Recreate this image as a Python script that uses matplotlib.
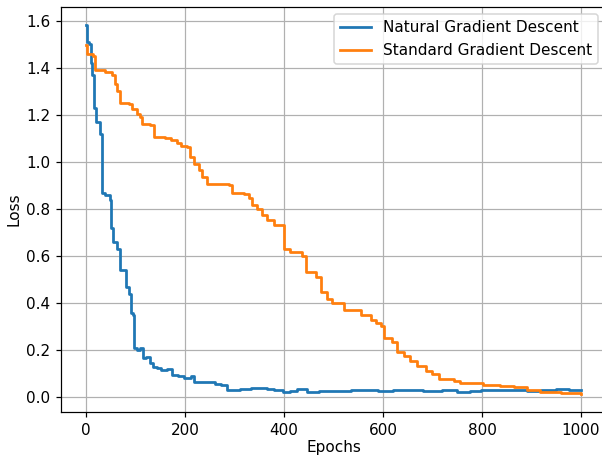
import matplotlib
matplotlib.use("Agg")
import matplotlib.pyplot as plt

# Natural gradient descent: (epoch, loss) change points
ngd_epochs = [0, 2, 7, 10, 13, 17, 20, 28, 32, 39, 48, 51, 55, 63, 68, 76, 80, 86, 90, 95,
              97, 103, 110, 116, 122, 129, 136, 144, 151, 164, 174, 186, 197, 212, 218,
              245, 261, 272, 285, 312, 333, 353, 365, 380, 397, 412, 427, 447, 470, 500,
              535, 561, 590, 620, 642, 680, 720, 750, 775, 797, 830, 860, 890, 920, 950,
              975, 1000]
ngd_loss = [1.58, 1.51, 1.50, 1.42, 1.37, 1.23, 1.17, 1.12, 0.87, 0.86, 0.84, 0.72, 0.66,
            0.63, 0.54, 0.54, 0.47, 0.44, 0.36, 0.35, 0.21, 0.20, 0.21, 0.167, 0.17, 0.145,
            0.13, 0.123, 0.116, 0.12, 0.096, 0.09, 0.081, 0.091, 0.066, 0.066, 0.057, 0.053,
            0.031, 0.036, 0.038, 0.040, 0.034, 0.033, 0.024, 0.028, 0.034, 0.022, 0.028,
            0.026, 0.029, 0.032, 0.027, 0.029, 0.033, 0.028, 0.030, 0.024, 0.028, 0.033,
            0.030, 0.031, 0.028, 0.033, 0.035, 0.031, 0.030]

# Standard gradient descent: (epoch, loss) change points
sgd_epochs = [0, 2, 15, 19, 39, 53, 58, 63, 69, 86, 93, 103, 110, 113, 130, 137, 160, 171,
              184, 191, 204, 211, 218, 228, 235, 245, 289, 295, 319, 329, 336, 346, 356,
              366, 380, 400, 413, 437, 444, 464, 475, 487, 497, 521, 555, 575, 585, 595,
              602, 618, 629, 642, 655, 669, 686, 699, 713, 743, 756, 803, 837, 864, 891,
              918, 959, 1000]
sgd_loss = [1.495, 1.457, 1.448, 1.389, 1.38, 1.37, 1.33, 1.30, 1.25, 1.247, 1.226, 1.205,
            1.19, 1.16, 1.155, 1.106, 1.103, 1.095, 1.08, 1.066, 1.064, 1.02, 0.993, 0.965,
            0.936, 0.908, 0.90, 0.866, 0.863, 0.845, 0.816, 0.80, 0.774, 0.755, 0.731,
            0.630, 0.618, 0.60, 0.533, 0.512, 0.448, 0.416, 0.40, 0.37, 0.35, 0.328, 0.317,
            0.303, 0.25, 0.236, 0.194, 0.175, 0.156, 0.133, 0.113, 0.099, 0.078, 0.068,
            0.060, 0.054, 0.048, 0.043, 0.030, 0.023, 0.019, 0.016]

W, H = 602, 457
DPI = 110
fig = plt.figure(figsize=(W / DPI, H / DPI), dpi=DPI)
left, right, top, bottom = 61.25, 605.75, 6.7, 412.3
ax = fig.add_axes([left / W, 1 - bottom / H, (right - left) / W, (bottom - top) / H])

ax.plot(ngd_epochs, ngd_loss, drawstyle="steps-post", color="#1f77b4", lw=1.8,
        label="Natural Gradient Descent")
ax.plot(sgd_epochs, sgd_loss, drawstyle="steps-post", color="#ff7f0e", lw=1.8,
        label="Standard Gradient Descent")

ax.set_xlim(-50, 1050)
ax.set_ylim(-0.0637, 1.6595)
ax.set_xticks([0, 200, 400, 600, 800, 1000])
ax.set_yticks([0.0, 0.2, 0.4, 0.6, 0.8, 1.0, 1.2, 1.4, 1.6])
ax.set_xlabel("Epochs", labelpad=1.5)
ax.set_ylabel("Loss", labelpad=3)
ax.grid(True)
ax.legend(loc="upper right")

fig.savefig("out.png", dpi=DPI)
